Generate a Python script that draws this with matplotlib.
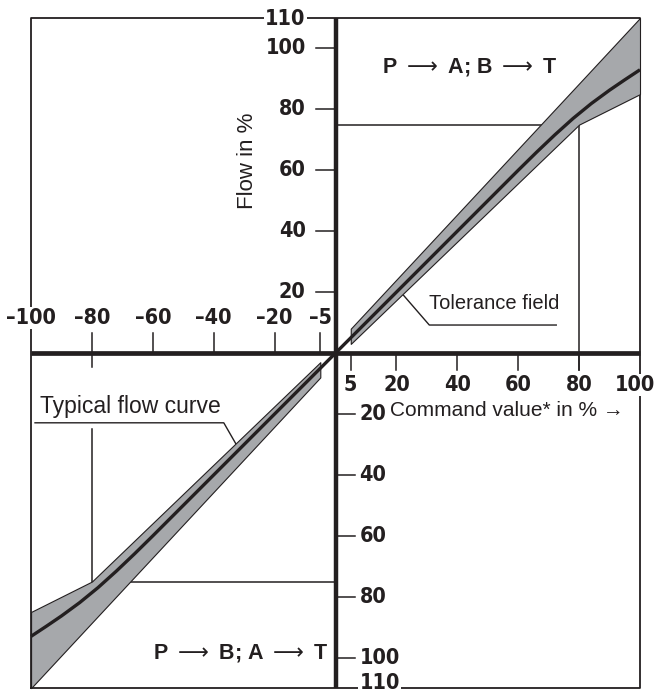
import matplotlib
matplotlib.use("Agg")
import matplotlib.pyplot as plt
from matplotlib import font_manager

# --- chart data ---
x_ticks_pos = [5, 20, 40, 60, 80]
x_ticks_neg = [-5, -20, -40, -60, -80]
y_ticks_pos = [20, 40, 60, 80, 100]
y_ticks_neg = [-20, -40, -60, -80, -100]

# typical flow curve, quadrant 1 (quadrant 3 is point-symmetric)
curve_x = [0, 60, 66, 72, 78, 84, 90, 95, 100]
curve_y = [0, 60, 65.9, 71.6, 77.0, 81.9, 86.3, 89.7, 93.0]

# tolerance field, quadrant 1
band_x = [5, 80, 100]
band_upper = [8, 88.5, 110]
band_lower = [3, 75, 85]

# reference marks at 75 % flow / 80 % command
ref_cmd = 80
ref_flow = 75

INK = "#231f20"
GREY = "#a6a8ab"
REG = ["Liberation Sans", "DejaVu Sans"]

# the tick numbers are set in a condensed bold face; use one if installed
narrow = None
for f in font_manager.fontManager.ttflist:
    cond = "Narrow" in f.name or "Condensed" in f.name or "condensed" in str(f.stretch)
    if cond and str(f.weight) in ("bold", "700"):
        narrow = f
        break
if narrow is not None:
    NUM = dict(fontproperties=font_manager.FontProperties(fname=narrow.fname, size=15.5))
else:
    NUM = dict(family=REG, fontsize=14, fontweight="bold")
NUM.update(color=INK)

fig = plt.figure(figsize=(6.54, 6.93), dpi=100)
ax = fig.add_axes([0, 0, 1, 1])
ax.set_xlim(-110.2, 104.6)
ax.set_ylim(-111.6, 115.9)
ax.axis("off")

# tolerance field, both quadrants
neg = lambda v: [-a for a in v]
ax.fill_between(band_x, band_lower, band_upper, facecolor=GREY,
                edgecolor=INK, linewidth=0.8, zorder=2)
ax.fill_between(neg(band_x), neg(band_lower), neg(band_upper), facecolor=GREY,
                edgecolor=INK, linewidth=0.8, zorder=2)

# typical flow curve
ax.plot(neg(curve_x[::-1]) + curve_x[1:], neg(curve_y[::-1]) + curve_y[1:],
        color=INK, lw=2.4, solid_capstyle="butt", zorder=3)

# frame
ax.plot([-100, 100, 100, -100, -100], [-110, -110, 110, 110, -110],
        color=INK, lw=1.3, zorder=1)

# reference rectangles
ax.plot([0, ref_cmd, ref_cmd], [ref_flow, ref_flow, -5.5], color=INK, lw=1.1, zorder=1)
ax.plot([-ref_cmd, -ref_cmd, 0], [-25, -ref_flow, -ref_flow], color=INK, lw=1.1, zorder=1)

# main axes
ax.plot([-100, 100], [0, 0], color=INK, lw=3.4, zorder=4, solid_capstyle="butt")
ax.plot([0, 0], [-110, 110], color=INK, lw=3.2, zorder=4, solid_capstyle="butt")

# ticks
for x in x_ticks_pos:
    ax.plot([x, x], [0, -5.5], color=INK, lw=1.1, zorder=1)
    ax.text(x, -10.5, str(x), ha="center", va="center", **NUM)
for x in x_ticks_neg:
    ax.plot([x, x], [0, 6.5], color=INK, lw=1.1, zorder=1)
    ax.text(x, 11.5, "\u2013" + str(-x), ha="center", va="center", **NUM)
ax.plot([-80, -80], [0, -4.5], color=INK, lw=1.1, zorder=1)
for y in y_ticks_pos:
    ax.plot([-6.5, 0], [y, y], color=INK, lw=1.1, zorder=1)
    ax.text(-9.8, y, str(y), ha="right", va="center", **NUM)
for y in y_ticks_neg:
    ax.plot([0, 6.5], [y, y], color=INK, lw=1.1, zorder=1)
    ax.text(7.9, y, str(-y), ha="left", va="center", **NUM)

# end labels breaking the frame
box = dict(facecolor="white", edgecolor="none", pad=1)
ax.text(-9.8, 109.8, "110", ha="right", va="center", bbox=box, zorder=5, **NUM)
ax.text(7.9, -108.4, "110", ha="left", va="center", bbox=box, zorder=5, **NUM)
ax.text(-100, 11.5, "\u2013100", ha="center", va="center", bbox=box, zorder=5, **NUM)
ax.text(98.3, -10.5, "100", ha="center", va="center", bbox=box, zorder=5, **NUM)

# axis titles
ax.text(-29, 63, "Flow in %", rotation=90, ha="center", va="center",
        fontsize=16, family=REG, color=INK)
ax.text(18, -19, "Command value* in % \u2192", ha="left", va="center",
        fontsize=15, family=REG, color=INK)

# quadrant labels
ax.text(44, 94, r"P $\longrightarrow$ A; B $\longrightarrow$ T", ha="center", va="center",
        fontsize=15.5, fontweight="bold", family=REG, color=INK)
ax.text(-31, -98.5, r"P $\longrightarrow$ B; A $\longrightarrow$ T", ha="center", va="center",
        fontsize=15.5, fontweight="bold", family=REG, color=INK)

# annotations with leader lines
ax.text(52, 16.3, "Tolerance field", ha="center", va="center",
        fontsize=14.5, family=REG, color=INK)
ax.plot([22.3, 30.8, 72.5], [19.0, 9.2, 9.2], color=INK, lw=1.0, zorder=1)
ax.text(-67.3, -17.5, "Typical flow curve", ha="center", va="center",
        fontsize=16.5, family=REG, color=INK)
ax.plot([-98.7, -36.7, -32.5], [-22.9, -22.9, -30.2], color=INK, lw=1.0, zorder=1)

fig.savefig("out.png", dpi=100)
